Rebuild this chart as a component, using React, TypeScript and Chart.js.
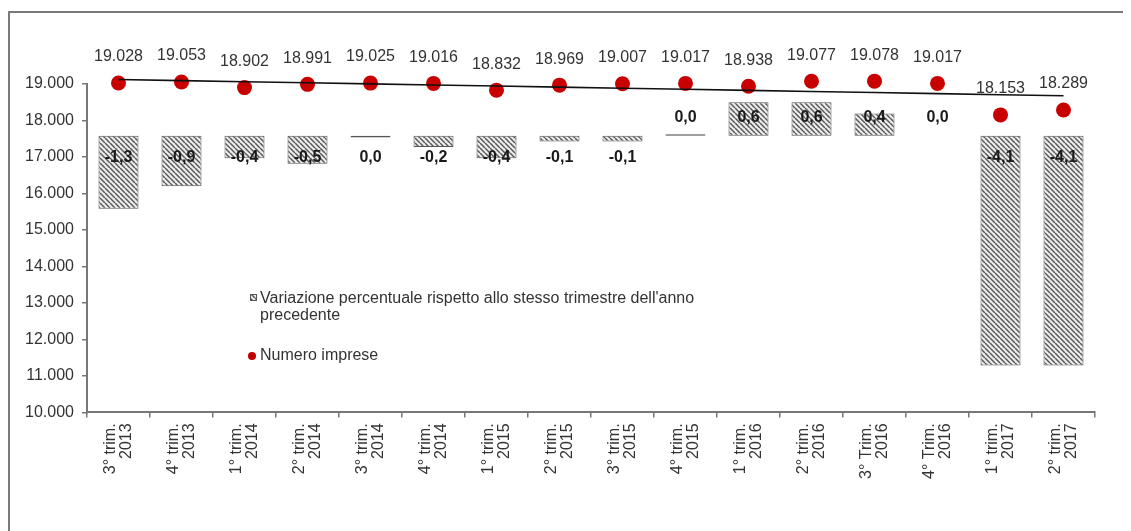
import React, { useEffect, useRef } from "react";
import { Chart, registerables } from "chart.js";

Chart.register(...registerables);

const categories: string[][] = [
  ["3° trim.", "2013"], ["4° trim.", "2013"], ["1° trim.", "2014"], ["2° trim.", "2014"],
  ["3° trim.", "2014"], ["4° trim.", "2014"], ["1° trim.", "2015"], ["2° trim.", "2015"],
  ["3° trim.", "2015"], ["4° trim.", "2015"], ["1° trim.", "2016"], ["2° trim.", "2016"],
  ["3° Trim.", "2016"], ["4° Trim.", "2016"], ["1° trim.", "2017"], ["2° trim.", "2017"],
];

const impresse: number[] = [
  19028, 19053, 18902, 18991, 19025, 19016, 18832, 18969,
  19007, 19017, 18938, 19077, 19078, 19017, 18153, 18289,
];

const variazione: number[] = [
  -1.3, -0.9, -0.4, -0.5, -0.03, -0.2, -0.4, -0.1,
  -0.1, 0.03, 0.6, 0.6, 0.4, 0, -4.1, -4.1,
];

const yTicks: number[] = [10000, 11000, 12000, 13000, 14000, 15000, 16000, 17000, 18000, 19000];

const legendBars = ["Variazione percentuale rispetto allo stesso trimestre dell'anno", "precedente"];
const legendPoints = "Numero imprese";

// mapping of the percentage axis onto the left axis
const BAR_BASE = 17580;
const PCT_UNIT = 1536;

const FONT = '"Liberation Sans", Arial, sans-serif';

function fmtThousands(n: number): string {
  return String(Math.round(n)).replace(/\B(?=(\d{3})+(?!\d))/g, ".");
}
function fmtPct(v: number): string {
  if (Math.abs(v) < 0.05) return "0,0";
  return v.toFixed(1).replace(".", ",");
}

function trend(values: number[]): number[] {
  const n = values.length;
  const mx = (n - 1) / 2;
  const my = values.reduce((a, b) => a + b, 0) / n;
  let sxy = 0, sxx = 0;
  values.forEach((v, i) => { sxy += (i - mx) * (v - my); sxx += (i - mx) * (i - mx); });
  const b = sxy / sxx;
  return values.map((_, i) => my + b * (i - mx));
}

function makeHatch(): CanvasPattern | string {
  const s = 5;
  const c = document.createElement("canvas");
  c.width = s; c.height = s;
  const g = c.getContext("2d");
  if (!g) return "#bbb";
  g.fillStyle = "#ececec";
  g.fillRect(0, 0, s, s);
  g.strokeStyle = "#585858";
  g.lineWidth = 1.5;
  for (const o of [-s, 0, s]) {
    g.beginPath();
    g.moveTo(o, 0);
    g.lineTo(o + s, s);
    g.stroke();
  }
  const p = (document.createElement("canvas").getContext("2d") as CanvasRenderingContext2D).createPattern(c, "repeat");
  return p || "#bbb";
}

export default function App() {
  const ref = useRef<HTMLCanvasElement | null>(null);

  useEffect(() => {
    document.body.style.overflow = "hidden";
    const canvas = ref.current;
    if (!canvas) return;
    const hatch = makeHatch();

    const labelsPlugin = {
      id: "customLabels",
      afterDatasetsDraw(chart: any) {
        const ctx = chart.ctx as CanvasRenderingContext2D;
        const base = chart.scales.y2.getPixelForValue(0);
        ctx.save();
        ctx.textAlign = "center";
        ctx.textBaseline = "middle";
        ctx.fillStyle = "#1a1a1a";
        ctx.font = `bold 16px ${FONT}`;
        chart.getDatasetMeta(0).data.forEach((el: any, i: number) => {
          const v = variazione[i];
          const y = v < 0 ? base + 22 : base - 18;
          ctx.fillText(fmtPct(v), el.x, y);
        });
        ctx.fillStyle = "#333";
        ctx.font = `16px ${FONT}`;
        chart.getDatasetMeta(1).data.forEach((el: any, i: number) => {
          ctx.fillText(fmtThousands(impresse[i]), el.x, el.y - 26);
        });
        ctx.restore();
      },
      afterDraw(chart: any) {
        const ctx = chart.ctx as CanvasRenderingContext2D;
        const ca = chart.chartArea;
        const x0 = ca.left + 163;
        const y0 = ca.top + 214;
        ctx.save();
        ctx.fillStyle = hatch as any;
        ctx.fillRect(x0, y0 - 4, 7, 7);
        ctx.strokeStyle = "#555";
        ctx.lineWidth = 1;
        ctx.strokeRect(x0 + 0.5, y0 - 3.5, 6, 6);
        ctx.fillStyle = "#333";
        ctx.font = `16px ${FONT}`;
        ctx.textAlign = "left";
        ctx.textBaseline = "middle";
        ctx.fillText(legendBars[0], x0 + 10, y0 + 1);
        ctx.fillText(legendBars[1], x0 + 10, y0 + 18);
        ctx.fillStyle = "#c00000";
        ctx.beginPath();
        ctx.arc(x0 + 2, y0 + 58, 4, 0, Math.PI * 2);
        ctx.fill();
        ctx.fillStyle = "#333";
        ctx.fillText(legendPoints, x0 + 10, y0 + 58);
        ctx.restore();
      },
    };

    const chart = new Chart(canvas, {
      type: "bar",
      data: {
        labels: categories,
        datasets: [
          {
            type: "bar",
            label: legendBars.join(" "),
            data: variazione,
            yAxisID: "y2",
            backgroundColor: hatch as any,
            borderColor: "#555",
            borderWidth: 1,
            borderSkipped: false,
            barPercentage: 0.635,
            categoryPercentage: 1,
            order: 3,
          } as any,
          {
            type: "line",
            label: legendPoints,
            data: impresse,
            yAxisID: "y",
            showLine: false,
            pointRadius: 7.5,
            pointBackgroundColor: "#c80000",
            pointBorderColor: "#c80000",
            pointBorderWidth: 0,
            clip: false,
            order: 2,
          } as any,
          {
            type: "line",
            label: "Tendenza",
            data: trend(impresse),
            yAxisID: "y",
            borderColor: "#111",
            borderWidth: 1.6,
            pointRadius: 0,
            clip: false,
            order: 1,
          } as any,
        ],
      },
      options: {
        responsive: false,
        animation: false,
        events: [],
        layout: { padding: { left: 0, right: 36, top: 71, bottom: 0 } },
        plugins: { legend: { display: false }, tooltip: { enabled: false } },
        scales: {
          x: {
            offset: true,
            grid: { display: true, drawOnChartArea: false, offset: true, tickLength: 5, color: "#777", lineWidth: 1.5 },
            border: { display: true, color: "#777", width: 2 },
            ticks: {
              autoSkip: false,
              maxRotation: 90,
              minRotation: 90,
              padding: 6,
              labelOffset: -8,
              color: "#333",
              font: { family: FONT, size: 16, lineHeight: 1.0 },
            },
            afterFit(scale: any) { scale.height = 118.6; },
          },
          y: {
            position: "left",
            min: 10000,
            max: 19000,
            afterBuildTicks(scale: any) { scale.ticks = yTicks.map((v) => ({ value: v })); },
            grid: { display: true, drawOnChartArea: false, tickLength: 5, color: "#777", lineWidth: 1.5 },
            border: { display: true, color: "#777", width: 2 },
            ticks: {
              padding: 8,
              color: "#333",
              font: { family: FONT, size: 16 },
              callback: (v: any) => fmtThousands(Number(v)),
            },
            afterFit(scale: any) { scale.width = 77; },
          },
          y2: {
            display: false,
            min: (10000 - BAR_BASE) / PCT_UNIT,
            max: (19000 - BAR_BASE) / PCT_UNIT,
          },
        },
      } as any,
      plugins: [labelsPlugin],
    });
    return () => chart.destroy();
  }, []);

  return (
    <div
      style={{
        position: "relative",
        marginTop: 3,
        width: 1123,
        height: 520,
        borderTop: "2px solid #7a7a7a",
        borderLeft: "2px solid #7a7a7a",
        boxSizing: "border-box",
        background: "#fff",
      }}
    >
      <canvas ref={ref} width={1121} height={518} style={{ display: "block" }} />
    </div>
  );
}
